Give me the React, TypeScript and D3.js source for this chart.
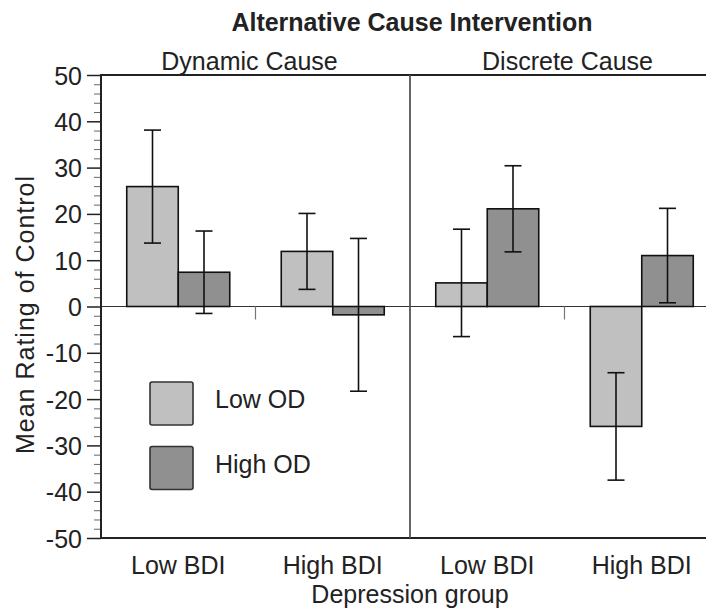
import React, { useRef, useEffect } from 'react';
import * as d3 from 'd3';

const chartTitle = "Alternative Cause Intervention";
const panels = ["Dynamic Cause", "Discrete Cause"];
const groups = ["Low BDI", "High BDI"];
const series = ["Low OD", "High OD"];
// order: Dynamic/Low BDI, Dynamic/High BDI, Discrete/Low BDI, Discrete/High BDI
const lowODMeans = [25.9, 11.9, 5.1, -25.9];
const lowODErrors = [12.2, 8.2, 11.6, 11.6];
const highODMeans = [7.4, -1.8, 21.1, 11.0];
const highODErrors = [8.9, 16.5, 9.3, 10.2];
const yMajorTicks = [-50, -40, -30, -20, -10, 0, 10, 20, 30, 40, 50];
const yLabel = "Mean Rating of Control";
const xLabel = "Depression group";

const colors = { "Low OD": "#c0c0c0", "High OD": "#909090" };

const App = () => {
  const ref = useRef(null);

  useEffect(() => {
    const svg = d3.select(ref.current);
    svg.selectAll("*").remove();

    const width = 706;
    const height = 610;
    const margin = { top: 75, right: -13, bottom: 72, left: 101 };
    const font = "'Liberation Sans', Arial, Helvetica, sans-serif";

    const y = d3.scaleLinear()
      .domain([-50, 50])
      .range([height - margin.bottom, margin.top]);

    const xPanel = d3.scaleBand()
      .domain(panels)
      .range([margin.left, width - margin.right]);

    const xGroup = d3.scaleBand()
      .domain(groups)
      .range([0, xPanel.bandwidth()]);

    const xSeries = d3.scaleBand()
      .domain(series)
      .range([0, xGroup.bandwidth()])
      .paddingOuter(0.5);

    // flatten data
    const rows = [];
    panels.forEach((p, pi) => {
      groups.forEach((g, gi) => {
        const idx = pi * 2 + gi;
        rows.push({ panel: p, group: g, s: "Low OD", v: lowODMeans[idx], e: lowODErrors[idx] });
        rows.push({ panel: p, group: g, s: "High OD", v: highODMeans[idx], e: highODErrors[idx] });
      });
    });

    const bx = d => xPanel(d.panel) + xGroup(d.group) + xSeries(d.s);

    // zero line
    svg.append("line")
      .attr("x1", margin.left).attr("x2", width)
      .attr("y1", y(0)).attr("y2", y(0))
      .attr("stroke", "#333").attr("stroke-width", 1.2);

    // group separator ticks under zero line
    panels.forEach(p => {
      const cx = xPanel(p) + xGroup.bandwidth();
      svg.append("line")
        .attr("x1", cx).attr("x2", cx)
        .attr("y1", y(0)).attr("y2", y(0) + 13)
        .attr("stroke", "#777").attr("stroke-width", 1.2);
    });

    // bars
    svg.append("g").selectAll("rect")
      .data(rows)
      .join("rect")
      .attr("x", bx)
      .attr("width", xSeries.bandwidth())
      .attr("y", d => y(Math.max(0, d.v)))
      .attr("height", d => Math.abs(y(d.v) - y(0)))
      .attr("fill", d => colors[d.s])
      .attr("stroke", "#111")
      .attr("stroke-width", 1.6);

    // error bars
    const eb = svg.append("g").attr("stroke", "#111").attr("stroke-width", 1.6);
    rows.forEach(d => {
      const cx = bx(d) + xSeries.bandwidth() / 2;
      eb.append("line").attr("x1", cx).attr("x2", cx).attr("y1", y(d.v + d.e)).attr("y2", y(d.v - d.e));
      [d.v + d.e, d.v - d.e].forEach(val => {
        eb.append("line").attr("x1", cx - 8.5).attr("x2", cx + 8.5).attr("y1", y(val)).attr("y2", y(val));
      });
    });

    // frame: top line, bottom line, divider
    svg.append("line")
      .attr("x1", margin.left).attr("x2", width)
      .attr("y1", y(50)).attr("y2", y(50))
      .attr("stroke", "#222").attr("stroke-width", 1.8);
    svg.append("line")
      .attr("x1", margin.left).attr("x2", width)
      .attr("y1", y(-50)).attr("y2", y(-50))
      .attr("stroke", "#222").attr("stroke-width", 1.8);
    svg.append("line")
      .attr("x1", xPanel(panels[1])).attr("x2", xPanel(panels[1]))
      .attr("y1", y(50)).attr("y2", y(-50))
      .attr("stroke", "#555").attr("stroke-width", 1.8);

    // y axis
    const minorTicks = d3.range(-50, 51, 2).filter(v => v % 10 !== 0);
    svg.append("g")
      .attr("transform", `translate(${margin.left},0)`)
      .call(d3.axisLeft(y).tickValues(minorTicks).tickSize(7).tickFormat(() => ""))
      .call(g => g.select(".domain").remove())
      .call(g => g.selectAll("line").attr("stroke", "#666").attr("stroke-width", 1));

    svg.append("g")
      .attr("transform", `translate(${margin.left},0)`)
      .call(d3.axisLeft(y).tickValues(yMajorTicks).tickSize(14).tickPadding(5).tickFormat(d => String(d)))
      .call(g => g.select(".domain").remove())
      .call(g => g.selectAll("line").attr("stroke", "#222").attr("stroke-width", 1.5))
      .call(g => g.selectAll("text")
        .attr("font-family", font).attr("font-size", 25).attr("fill", "#222").attr("dy", "0.36em"));

    svg.append("line")
      .attr("x1", margin.left).attr("x2", margin.left)
      .attr("y1", y(50) - 0.9).attr("y2", y(-50) + 0.9)
      .attr("stroke", "#222").attr("stroke-width", 2);

    // x category labels
    panels.forEach(p => {
      groups.forEach(g => {
        svg.append("text")
          .attr("x", xPanel(p) + xGroup(g) + xGroup.bandwidth() / 2)
          .attr("y", 574)
          .attr("text-anchor", "middle")
          .attr("font-family", font).attr("font-size", 25).attr("fill", "#222")
          .text(g);
      });
      svg.append("text")
        .attr("x", xPanel(p) + xPanel.bandwidth() / 2 + (p === panels[0] ? -6 : 3))
        .attr("y", 70)
        .attr("text-anchor", "middle")
        .attr("font-family", font).attr("font-size", 25).attr("fill", "#222")
        .text(p);
    });

    // axis titles
    svg.append("text")
      .attr("x", (margin.left + width - margin.right) / 2)
      .attr("y", 603)
      .attr("text-anchor", "middle")
      .attr("font-family", font).attr("font-size", 25).attr("fill", "#222")
      .text(xLabel);

    svg.append("text")
      .attr("transform", `translate(34,${y(0) + 8}) rotate(-90)`)
      .attr("text-anchor", "middle")
      .attr("font-family", font).attr("font-size", 25).attr("letter-spacing", 1).attr("fill", "#222")
      .text(yLabel);

    // title
    svg.append("text")
      .attr("x", 412)
      .attr("y", 31)
      .attr("text-anchor", "middle")
      .attr("font-family", font).attr("font-size", 25).attr("font-weight", "bold").attr("fill", "#222")
      .text(chartTitle);

    // legend
    const legend = svg.append("g").attr("transform", "translate(150,382)");
    series.forEach((s, i) => {
      const item = legend.append("g").attr("transform", `translate(0,${i * 64.5})`);
      item.append("rect")
        .attr("width", 43).attr("height", 43)
        .attr("rx", 2)
        .attr("fill", colors[s])
        .attr("stroke", "#333").attr("stroke-width", 1.6);
      item.append("text")
        .attr("x", 65).attr("y", 26)
        .attr("font-family", font).attr("font-size", 25).attr("fill", "#222")
        .text(s);
    });
  }, []);

  return (
    <svg ref={ref} width="706" height="610"
      style={{ position: "absolute", left: 0, top: 0, background: "#fff" }} />
  );
};

export default App;
